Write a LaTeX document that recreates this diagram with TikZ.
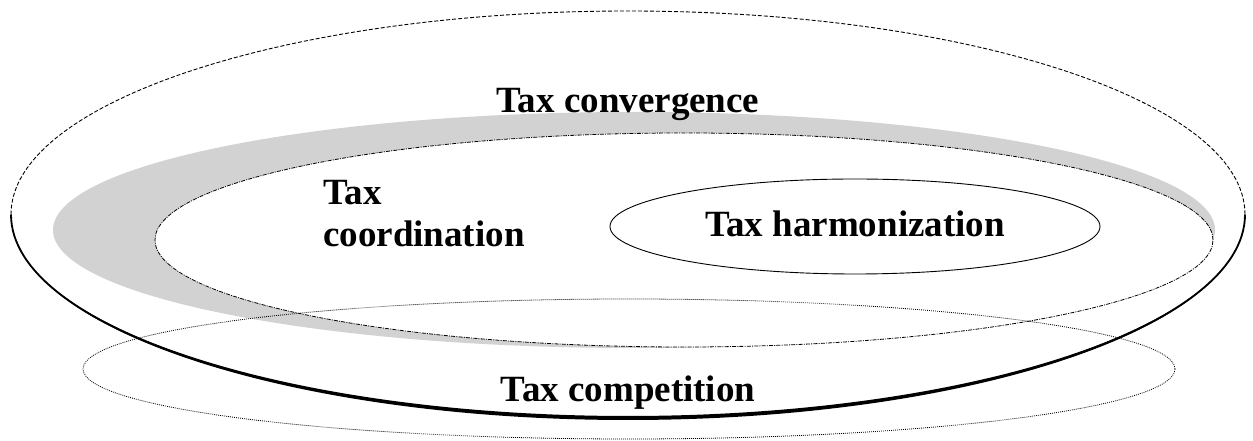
\documentclass[tikz,border=0pt]{standalone}
\usepackage{fontspec}
\setmainfont{Liberation Serif}
\begin{document}
\begin{tikzpicture}[x=1pt,y=1pt,
  lbl/.style={inner sep=0pt,font=\fontsize{37}{42}\selectfont\bfseries},
  topdash/.style={line width=0.9pt,dash pattern=on 4pt off 2pt},
  dashdot/.style={line width=0.8pt,dash pattern=on 4pt off 1.2pt on 1pt off 1.2pt},
  dotline/.style={line width=0.8pt,dash pattern=on 0.9pt off 1.1pt}]
\useasboundingbox (0,0) rectangle (1253,441);
% outer ellipse: dashed upper half, heavy solid lower half
\draw[topdash] (11,226.5) arc[start angle=180,end angle=0,x radius=617pt,y radius=203.5pt];
\draw[line width=1.8pt] (11,226.5) arc[start angle=180,end angle=360,x radius=617pt,y radius=203.5pt];
\fill (11,226.5) arc[start angle=180,end angle=360,x radius=617pt,y radius=205.5pt]
   arc[start angle=0,end angle=-180,x radius=617pt,y radius=201.5pt] -- cycle;
% grey crescent
\fill[gray!35] (634,211) ellipse[x radius=581pt,y radius=118pt];
% coordination ellipse
\filldraw[fill=white,dashdot] (684,201) ellipse[x radius=529pt,y radius=107pt];
% harmonization ellipse
\draw[line width=0.9pt] (855,214.5) ellipse[x radius=245pt,y radius=47.5pt];
% competition ellipse
\draw[dotline] (629,72) ellipse[x radius=546pt,y radius=70pt];
% labels
\node[lbl,anchor=base] (conv) at (628,328) {Tax convergence};
\node[lbl,anchor=base west] (coord1) at (323,236) {Tax};
\node[lbl,anchor=base west] (coord2) at (323,194) {coordination};
\node[lbl,anchor=base] (harm) at (855,204) {Tax harmonization};
\node[lbl,anchor=base] (comp) at (628,39) {Tax competition};
\end{tikzpicture}
\end{document}
